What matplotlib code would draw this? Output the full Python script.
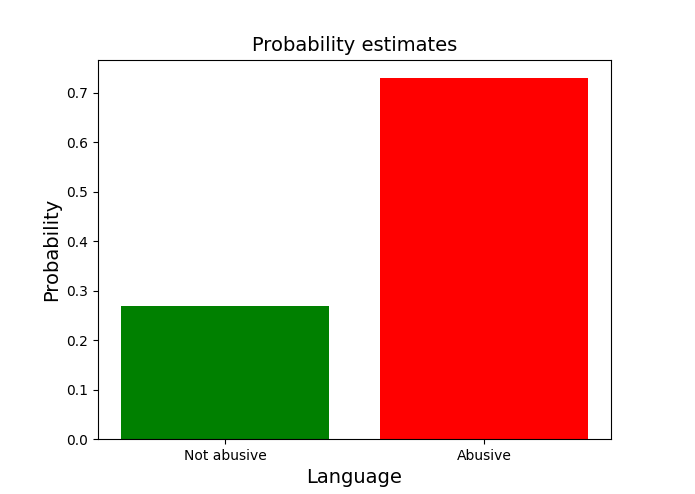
import matplotlib
matplotlib.use("Agg")
import matplotlib.pyplot as plt

categories = ["Not abusive", "Abusive"]
probabilities = [0.27, 0.73]
bar_colors = ["green", "red"]

fig = plt.figure(figsize=(6.95, 4.94), dpi=100)
ax = fig.add_subplot(111)
fig.subplots_adjust(left=0.141, right=0.879, top=0.879, bottom=0.111)

ax.bar(categories, probabilities, color=bar_colors)
ax.set_title("Probability estimates", fontsize=14)
ax.set_xlabel("Language", fontsize=14)
ax.set_ylabel("Probability", fontsize=14)

fig.savefig("out.png", dpi=100)
